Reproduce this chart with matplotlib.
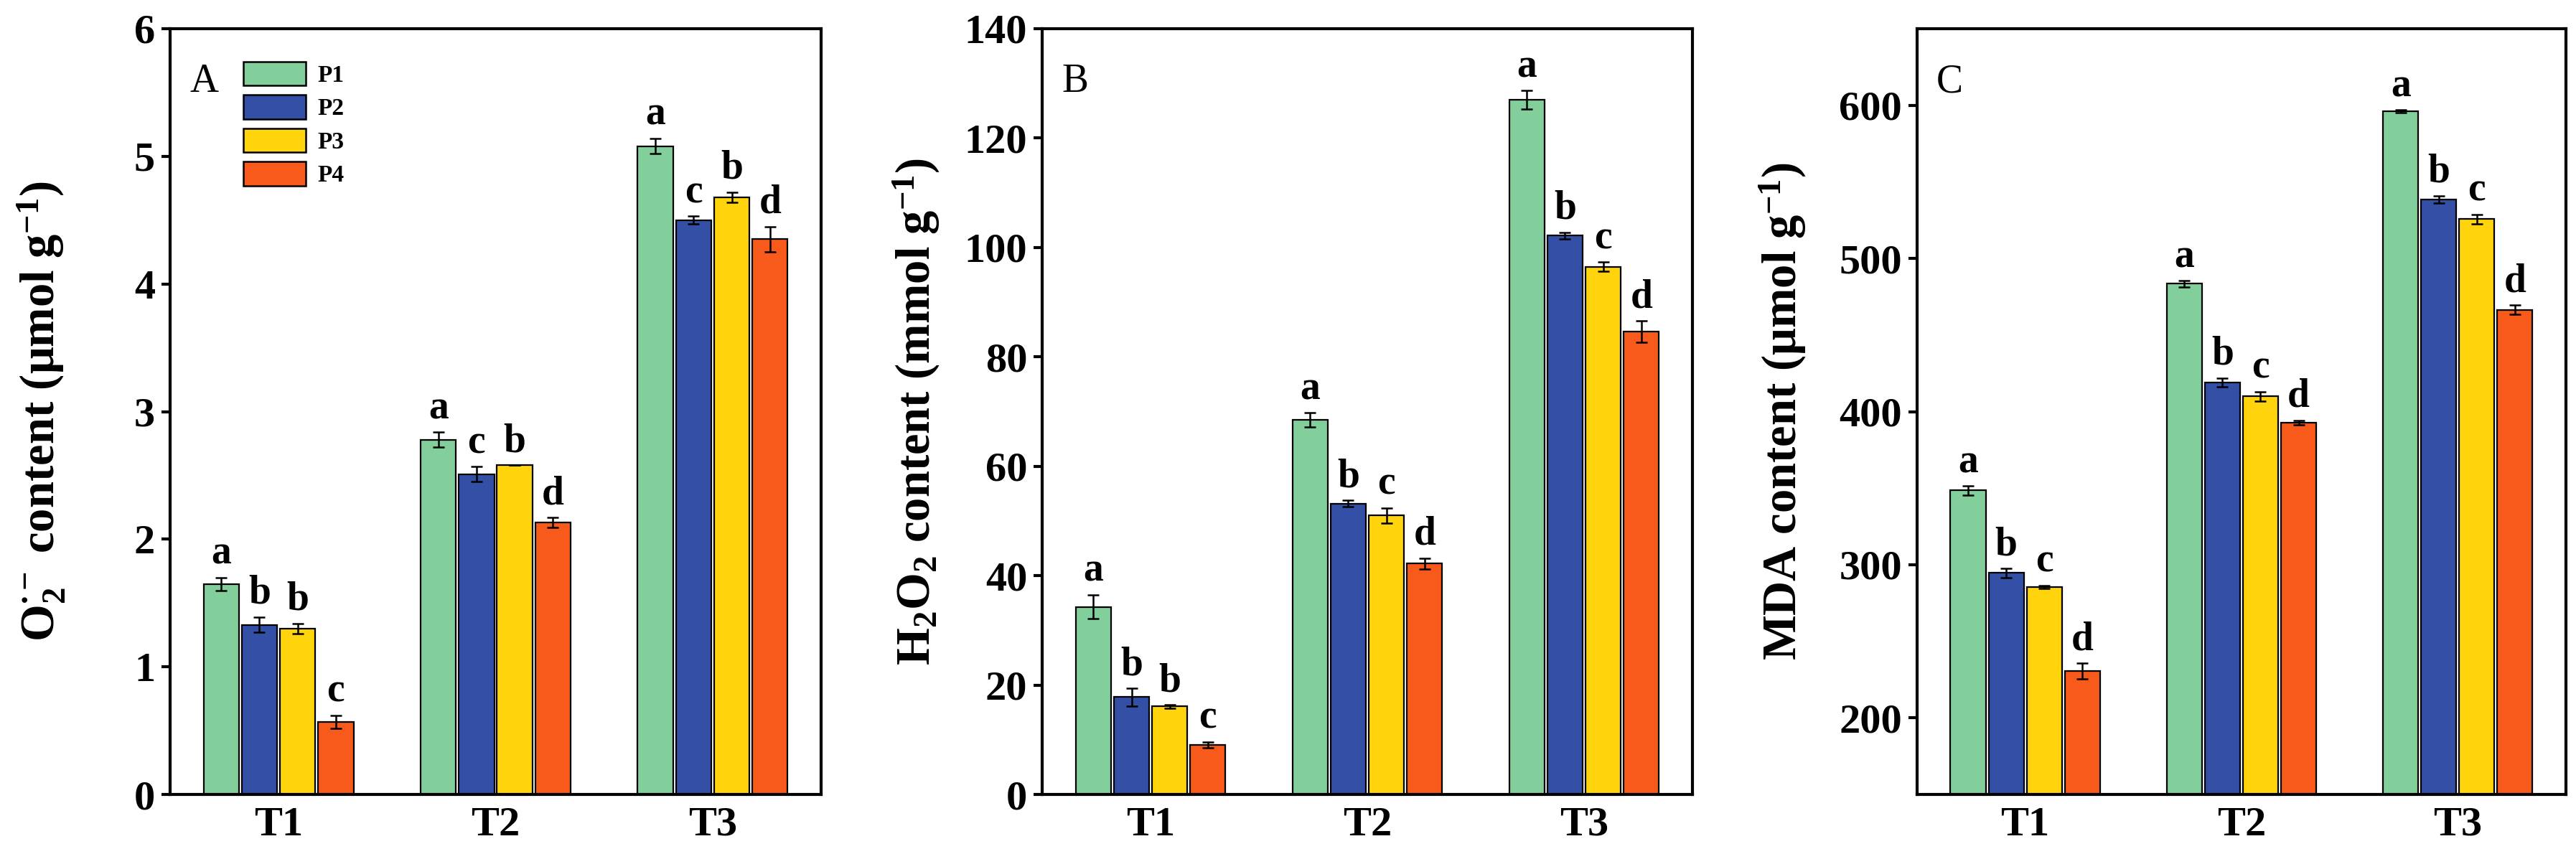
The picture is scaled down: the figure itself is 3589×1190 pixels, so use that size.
import numpy as np
import matplotlib
matplotlib.use("Agg")
import matplotlib.pyplot as plt
from matplotlib.patches import Patch

plt.rcParams['font.family'] = ['Liberation Serif', 'DejaVu Serif']
plt.rcParams['mathtext.fontset'] = 'custom'
plt.rcParams['mathtext.rm'] = 'Liberation Serif:bold'
plt.rcParams['mathtext.bf'] = 'Liberation Serif:bold'
plt.rcParams['mathtext.it'] = 'Liberation Serif:italic:bold'

# treatments and genotypes
groups = ['T1', 'T2', 'T3']
series = ['P1', 'P2', 'P3', 'P4']
colors = ['#83CF9B', '#3350A6', '#FFD40D', '#F75A1B']

# A: O2- content (umol g-1), rows = P1..P4, cols = T1..T3
o2_mean = [[1.65, 2.78, 5.08],
           [1.33, 2.51, 4.50],
           [1.30, 2.58, 4.68],
           [0.57, 2.13, 4.35]]
o2_err = [[0.05, 0.06, 0.06],
          [0.06, 0.06, 0.03],
          [0.04, 0.00, 0.04],
          [0.05, 0.04, 0.10]]
o2_let = [['a', 'a', 'a'],
          ['b', 'c', 'c'],
          ['b', 'b', 'b'],
          ['c', 'd', 'd']]

# B: H2O2 content (mmol g-1)
h2o2_mean = [[34.3, 68.5, 127.0],
             [17.8, 53.2, 102.2],
             [16.1, 51.0, 96.5],
             [9.1, 42.2, 84.6]]
h2o2_err = [[2.2, 1.3, 1.7],
            [1.6, 0.6, 0.6],
            [0.3, 1.4, 0.8],
            [0.5, 1.0, 2.0]]
h2o2_let = [['a', 'a', 'a'],
            ['b', 'b', 'b'],
            ['b', 'c', 'c'],
            ['c', 'd', 'd']]

# C: MDA content (umol g-1)
mda_mean = [[348.5, 483.5, 596.0],
            [294.6, 419.0, 538.5],
            [285.6, 410.0, 525.7],
            [230.7, 392.7, 466.5]]
mda_err = [[3.0, 2.0, 1.0],
           [3.0, 3.0, 2.5],
           [1.0, 3.0, 3.0],
           [5.0, 1.5, 3.0]]
mda_let = [['a', 'a', 'a'],
           ['b', 'b', 'b'],
           ['c', 'c', 'c'],
           ['d', 'd', 'd']]

panels = [
    dict(mean=o2_mean, err=o2_err, let=o2_let, ylim=(0, 6), ticks=np.arange(0, 7, 1),
         ylabel=r'O$_2^{\bullet-}$ content ($\mathrm{\mu}$mol g$^{-1}$)', tag='A',
         rect=[0.066, 0.0697, 0.2528, 0.8967], lab=-0.158),
    dict(mean=h2o2_mean, err=h2o2_err, let=h2o2_let, ylim=(0, 140), ticks=np.arange(0, 141, 20),
         ylabel=r'H$_2$O$_2$ content (mmol g$^{-1}$)', tag='B',
         rect=[0.4046, 0.0697, 0.2524, 0.8967], lab=-0.155),
    dict(mean=mda_mean, err=mda_err, let=mda_let, ylim=(150, 650), ticks=np.arange(200, 601, 100),
         ylabel=r'MDA content ($\mathrm{\mu}$mol g$^{-1}$)', tag='C',
         rect=[0.7442, 0.0697, 0.2519, 0.8967], lab=-0.168),
]

fig = plt.figure(figsize=(35.89, 11.90), dpi=100)

x = np.arange(len(groups))
step = 0.176
width = 0.163

for p in panels:
    ax = fig.add_axes(p['rect'])
    for i, s in enumerate(series):
        xs = x + (i - 1.5) * step
        ax.bar(xs, p['mean'][i], width=width, color=colors[i], edgecolor='black',
               linewidth=1.6, label=s, zorder=2)
        ax.errorbar(xs, p['mean'][i], yerr=p['err'][i], fmt='none', ecolor='black',
                    elinewidth=1.8, capsize=6, capthick=1.8, zorder=3)
        for j in range(len(groups)):
            ax.annotate(p['let'][i][j], (xs[j], p['mean'][i][j] + p['err'][i][j]),
                        xytext=(0, 5), textcoords='offset points', ha='center', va='bottom',
                        fontsize=40, fontweight='bold')
    ax.set_xlim(-0.5, 2.5)
    ax.set_ylim(*p['ylim'])
    ax.set_yticks(p['ticks'])
    ax.set_xticks(x)
    ax.set_xticklabels(groups)
    for sp in ax.spines.values():
        sp.set_linewidth(3)
    ax.tick_params(axis='y', direction='out', length=9, width=3, labelsize=42, pad=6)
    ax.tick_params(axis='x', length=0, labelsize=42, pad=12)
    for lab in ax.get_xticklabels() + ax.get_yticklabels():
        lab.set_fontweight('bold')
    ax.set_ylabel(p['ylabel'], fontsize=48, fontweight='bold')
    ax.yaxis.set_label_coords(p['lab'], 0.5)
    ax.text(0.03, 0.955, p['tag'], transform=ax.transAxes, fontsize=40,
            ha='left', va='top')
    if p['tag'] == 'A':
        handles = [Patch(facecolor=c, edgecolor='black', linewidth=1.8) for c in colors]
        ax.legend(handles, series, loc='upper left', bbox_to_anchor=(0.08, 0.985),
                  frameon=False, prop={'size': 24, 'weight': 'bold'},
                  handlelength=2.6, handleheight=1.15, labelspacing=0.35,
                  handletextpad=0.5)

fig.savefig('out.png', dpi=100)
